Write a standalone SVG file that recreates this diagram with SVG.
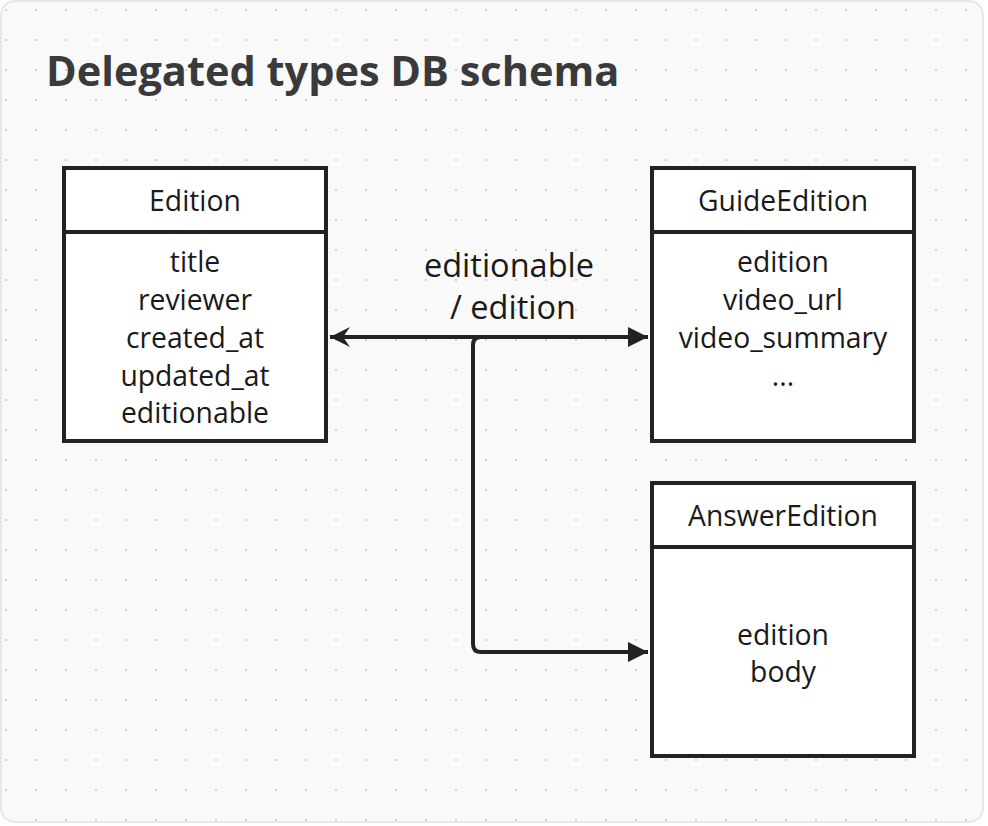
<svg xmlns="http://www.w3.org/2000/svg" width="988" height="826" viewBox="0 0 988 826">
<defs>
<pattern id="dots" x="0" y="0" width="30" height="30" patternUnits="userSpaceOnUse">
<circle cx="6" cy="10" r="1" fill="#c4c4c4"/>
</pattern>
<marker id="arrEnd" viewBox="0 0 10 10" refX="10" refY="5" markerWidth="5" markerHeight="5" markerUnits="strokeWidth" orient="auto">
<path d="M0,0 L10,5 L0,10 Z" fill="#222"/>
</marker>
<marker id="arrStart" viewBox="0 0 10 10" refX="0" refY="5" markerWidth="5" markerHeight="5" markerUnits="strokeWidth" orient="auto">
<path d="M0,5 L10,0 L6.5,5 L10,10 Z" fill="#222"/>
</marker>
</defs>
<style>
.box{fill:#fff;stroke:#222;stroke-width:4}
.t{font-family:"Open Sans","Liberation Sans",sans-serif;font-size:28.3px;fill:#1a1a1a;text-anchor:middle}
.lbl{font-family:"Open Sans","Liberation Sans",sans-serif;font-size:32.5px;fill:#1a1a1a;text-anchor:middle}
.title{font-family:"Open Sans","Liberation Sans",sans-serif;font-size:41.5px;font-weight:bold;fill:#3a3a3a}
.edge{fill:none;stroke:#222;stroke-width:4;stroke-linejoin:round}
</style>
<rect x="1" y="1" width="982" height="821" rx="14" fill="#f9f9f9" stroke="#e6e6e6" stroke-width="2"/>
<rect x="2" y="2" width="980" height="819" rx="13" fill="url(#dots)"/>
<text class="title" x="46" y="86">Delegated types DB schema</text>

<g id="connectors">
<path class="edge" d="M330,337 H648" marker-start="url(#arrStart)" marker-end="url(#arrEnd)"/>
<path class="edge" d="M600,337 H481 Q473,337 473,345 V644 Q473,652 481,652 H648" marker-end="url(#arrEnd)"/>
<text class="lbl" x="509" y="277">editionable</text>
<text class="lbl" x="513" y="319">/ edition</text>
</g>

<g id="edition">
<rect class="box" x="64" y="168" width="262" height="273"/>
<line x1="64" y1="232" x2="326" y2="232" stroke="#222" stroke-width="4"/>
<text class="t" x="195" y="211">Edition</text>
<text class="t" x="195" y="272">title</text>
<text class="t" x="195" y="310">reviewer</text>
<text class="t" x="195" y="348">created_at</text>
<text class="t" x="195" y="386">updated_at</text>
<text class="t" x="195" y="423">editionable</text>
</g>

<g id="guideedition">
<rect class="box" x="652" y="168" width="262" height="273"/>
<line x1="652" y1="232" x2="914" y2="232" stroke="#222" stroke-width="4"/>
<text class="t" x="783" y="211">GuideEdition</text>
<text class="t" x="783" y="272">edition</text>
<text class="t" x="783" y="310">video_url</text>
<text class="t" x="783" y="348">video_summary</text>
<text class="t" x="783" y="386">...</text>
</g>

<g id="answeredition">
<rect class="box" x="652" y="483" width="262" height="273"/>
<line x1="652" y1="547" x2="914" y2="547" stroke="#222" stroke-width="4"/>
<text class="t" x="783" y="526">AnswerEdition</text>
<text class="t" x="783" y="645">edition</text>
<text class="t" x="783" y="682">body</text>
</g>
</svg>
